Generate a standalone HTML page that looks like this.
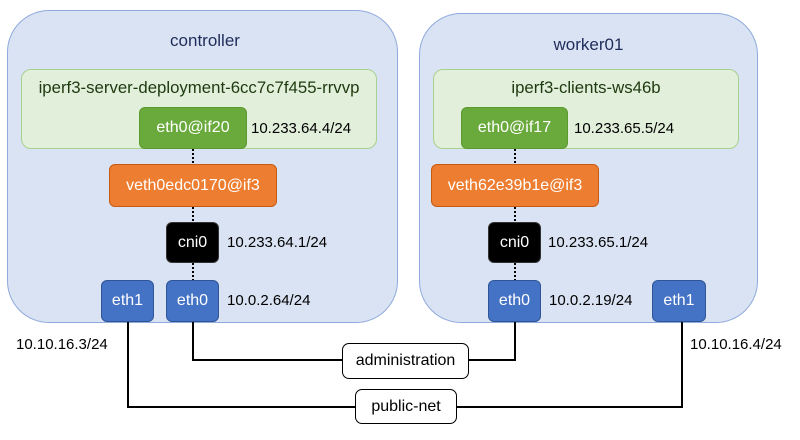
<!DOCTYPE html>
<html><head><style>
body{margin:0;width:800px;height:440px;background:#fff;position:relative;overflow:hidden;font-family:"Liberation Sans",sans-serif;}
.a{position:absolute;box-sizing:border-box;}
.host{background:#dae3f3;border:1px solid #8faadc;border-radius:42px;}
.pod{background:#e2efda;border:1px solid #a9d18e;border-radius:10px;}
.b{display:flex;align-items:center;justify-content:center;color:#fff;font-size:16px;border-radius:6px;}
.g{background:#6aaa3c;border:1px solid #5b9a30;}
.o{background:#ed7d31;border:1px solid #c55a11;}
.k{background:#000;border:1px solid #333;}
.bl{background:#4472c4;border:1px solid #2f5597;}
.t{position:absolute;font-size:15px;color:#000;white-space:nowrap;line-height:18px;}
.w{background:#fff;border:1px solid #000;border-radius:7px;display:flex;align-items:center;justify-content:center;font-size:16px;}
</style></head><body>
<div class="a host" style="left:7px;top:10px;width:391px;height:313px"></div>
<div class="a host" style="left:419px;top:13px;width:339px;height:310px"></div>
<div class="t" style="left:0;width:410px;text-align:center;top:32px;color:#1f2d5a;font-size:17px">controller</div>
<div class="t" style="left:419px;width:339px;text-align:center;top:36px;color:#1f2d5a;font-size:17px">worker01</div>
<div class="a pod" style="left:21px;top:69px;width:356px;height:80px"></div>
<div class="a pod" style="left:433px;top:69px;width:306px;height:80px"></div>
<div class="t" style="left:21px;width:356px;text-align:center;top:79px;color:#1e3a10;font-size:16.8px">iperf3-server-deployment-6cc7c7f455-rrvvp</div>
<div class="t" style="left:433px;width:306px;text-align:center;top:79px;color:#1e3a10;font-size:16.8px">iperf3-clients-ws46b</div>
<svg class="a" style="left:0;top:0" width="800" height="440">
<g stroke="#000" stroke-width="2" stroke-dasharray="2,2"><line x1="193" y1="149" x2="193" y2="164"/><line x1="193" y1="207" x2="193" y2="222"/><line x1="193" y1="263" x2="193" y2="280"/>
<line x1="515" y1="149" x2="515" y2="164"/><line x1="515" y1="207" x2="515" y2="222"/><line x1="515" y1="263" x2="515" y2="280"/></g>
<g stroke="#000" stroke-width="2" fill="none"><polyline points="193,322 193,360 345,360"/><polyline points="469,360 515,360 515,322"/>
<polyline points="128,322 128,407 356,407"/><polyline points="456,407 682,407 682,322"/></g>
</svg>
<div class="a b g" style="left:139px;top:107px;width:108px;height:42px">eth0@if20</div>
<div class="a b g" style="left:461px;top:107px;width:107px;height:42px">eth0@if17</div>
<div class="t" style="left:251px;top:120px">10.233.64.4/24</div>
<div class="t" style="left:574px;top:120px">10.233.65.5/24</div>
<div class="a b o" style="left:109px;top:164px;width:168px;height:43px">veth0edc0170@if3</div>
<div class="a b o" style="left:431px;top:164px;width:168px;height:43px">veth62e39b1e@if3</div>
<div class="a b k" style="left:166px;top:222px;width:53px;height:41px">cni0</div>
<div class="a b k" style="left:488px;top:222px;width:53px;height:41px">cni0</div>
<div class="t" style="left:227px;top:234px">10.233.64.1/24</div>
<div class="t" style="left:548px;top:234px">10.233.65.1/24</div>
<div class="a b bl" style="left:101px;top:280px;width:53px;height:42px">eth1</div>
<div class="a b bl" style="left:166px;top:280px;width:53px;height:42px">eth0</div>
<div class="a b bl" style="left:488px;top:280px;width:53px;height:42px">eth0</div>
<div class="a b bl" style="left:652px;top:280px;width:54px;height:42px">eth1</div>
<div class="t" style="left:227px;top:292px">10.0.2.64/24</div>
<div class="t" style="left:549px;top:292px">10.0.2.19/24</div>
<div class="t" style="left:16px;top:336px">10.10.16.3/24</div>
<div class="t" style="left:690px;top:336px">10.10.16.4/24</div>
<div class="a w" style="left:342px;top:343px;width:127px;height:36px">administration</div>
<div class="a w" style="left:355px;top:389px;width:102px;height:35px">public-net</div>
</body></html>
